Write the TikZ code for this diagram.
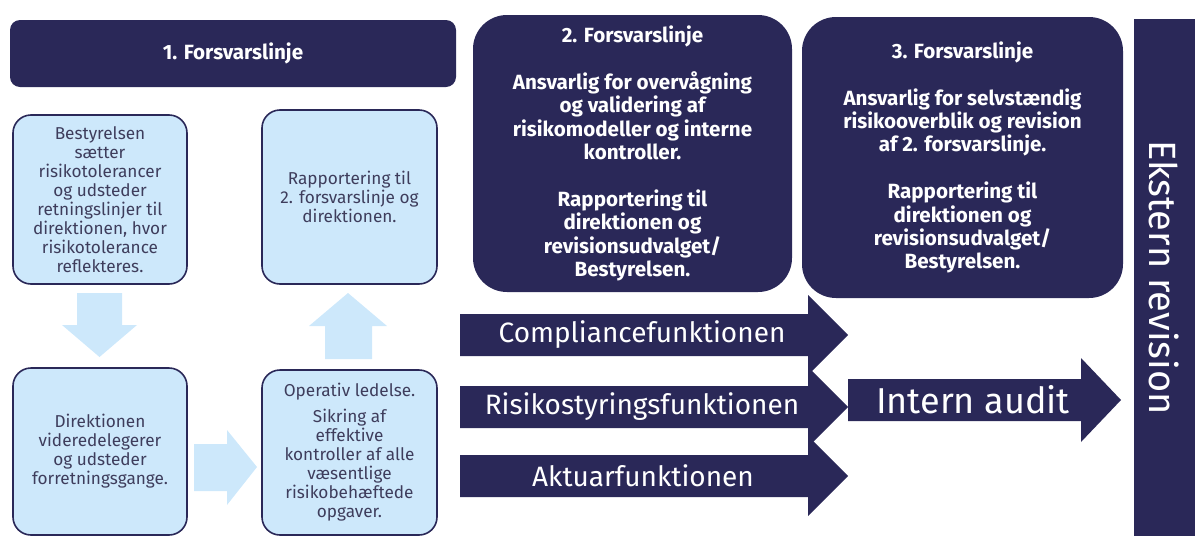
\documentclass[tikz,border=0pt]{standalone}
\usepackage{fontspec}
\setmainfont{Fira Sans}
\usepackage{tikz}
\usetikzlibrary{positioning,calc}
\definecolor{navy}{HTML}{2A2858}
\definecolor{lightblue}{HTML}{CDE8FB}
\definecolor{boxtext}{HTML}{3E3D5C}

\begin{document}
\begin{tikzpicture}[x=0.5pt,y=-0.5pt,
    darkbox/.style={fill=navy,text=white,align=center,inner sep=0pt,rounded corners=17pt,
      font=\bfseries\fontsize{10.3}{11.7}\selectfont},
    lightbox/.style={fill=lightblue,draw=navy,line width=0.8pt,rounded corners=9pt,text=boxtext,
      align=center,inner sep=0pt,font=\fontsize{8.6}{9.5}\selectfont},
    blockarrow/.style={fill=lightblue},
    navyarrow/.style={fill=navy},
    arrowtext/.style={text=white,inner sep=0pt,font=\fontsize{14}{16}\selectfont}]
  \useasboundingbox (0,0) rectangle (1195,536);

  % 1. forsvarslinje
  \node[darkbox,rounded corners=5pt,minimum width=223pt,minimum height=33.5pt] (line1) at (233,53.5) {\raisebox{2.5pt}{1. Forsvarslinje}};
  \node[lightbox,minimum width=87pt,minimum height=84.5pt] (board) at (100,199.5)
    {Bestyrelsen\\sætter\\risikotolerancer\\og udsteder\\retningslinjer til\\direktionen, hvor\\risikotolerance\\reflekteres.};
  \node[lightbox,minimum width=87.5pt,minimum height=87pt] (report) at (349.5,197)
    {Rapportering til\\2. forsvarslinje og\\direktionen.};
  \node[lightbox,minimum width=87pt,minimum height=83.5pt] (exec) at (100,451.5)
    {Direktionen\\videredelegerer\\og udsteder\\forretningsgange.};
  \node[lightbox,minimum width=87.5pt,minimum height=82.5pt] (oper) at (349.5,452.5)
    {Operativ ledelse.\\[3.5pt]Sikring af\\effektive\\kontroller af alle\\væsentlige\\risikobehæftede\\opgaver.};

  % light blue block arrows
  \fill[blockarrow] (77,293) -- (122,293) -- (122,325) -- (137,325) -- (99.5,357) -- (62,325) -- (77,325) -- cycle;
  \fill[blockarrow] (325,359) -- (372,359) -- (372,326) -- (387,326) -- (348,293) -- (309,326) -- (325,326) -- cycle;
  \fill[blockarrow] (194,444) -- (227,444) -- (227,430) -- (257,467) -- (227,505) -- (227,491) -- (194,491) -- cycle;

  % 2. and 3. forsvarslinje
  \node[darkbox,minimum width=159.5pt,minimum height=138.5pt] (line2) at (632.5,153.5)
    {2. Forsvarslinje\\[11.7pt]Ansvarlig for overvågning\\og validering af\\risikomodeller og interne\\kontroller.\\[11.7pt]Rapportering til\\direktionen og\\revisionsudvalget/\\Bestyrelsen.};
  \node[darkbox,minimum width=160.5pt,minimum height=140.5pt] (line3) at (962.5,157.5)
    {3. Forsvarslinje\\[11.7pt]Ansvarlig for selvstændig\\risikooverblik og revision\\af 2. forsvarslinje.\\[11.7pt]Rapportering til\\direktionen og\\revisionsudvalget/\\Bestyrelsen.};

  % functions
  \foreach \y in {335,407,476}
    \fill[navyarrow] (460,\y-21) -- (808,\y-21) -- (808,\y-40) -- (848,\y) -- (808,\y+40) -- (808,\y+21) -- (460,\y+21) -- cycle;
  \node[arrowtext] (comp) at (642,335) {Compliancefunktionen};
  \node[arrowtext] (risk) at (642,407) {Risikostyringsfunktionen};
  \node[arrowtext] (actu) at (643,476) {Aktuarfunktionen};

  \fill[navyarrow] (848,379) -- (1081,379) -- (1081,358) -- (1121,400) -- (1081,442) -- (1081,421) -- (848,421) -- cycle;
  \node[arrowtext,font=\fontsize{18}{20}\selectfont] (audit) at (973,400) {Intern audit};

  % ekstern revision
  \node[fill=navy,text=white,rotate=-90,inner sep=0pt,minimum width=258.5pt,minimum height=30.5pt,
    font=\fontsize{19}{21}\selectfont] (ext) at (1164.5,277.5) {Ekstern revision};
\end{tikzpicture}
\end{document}
